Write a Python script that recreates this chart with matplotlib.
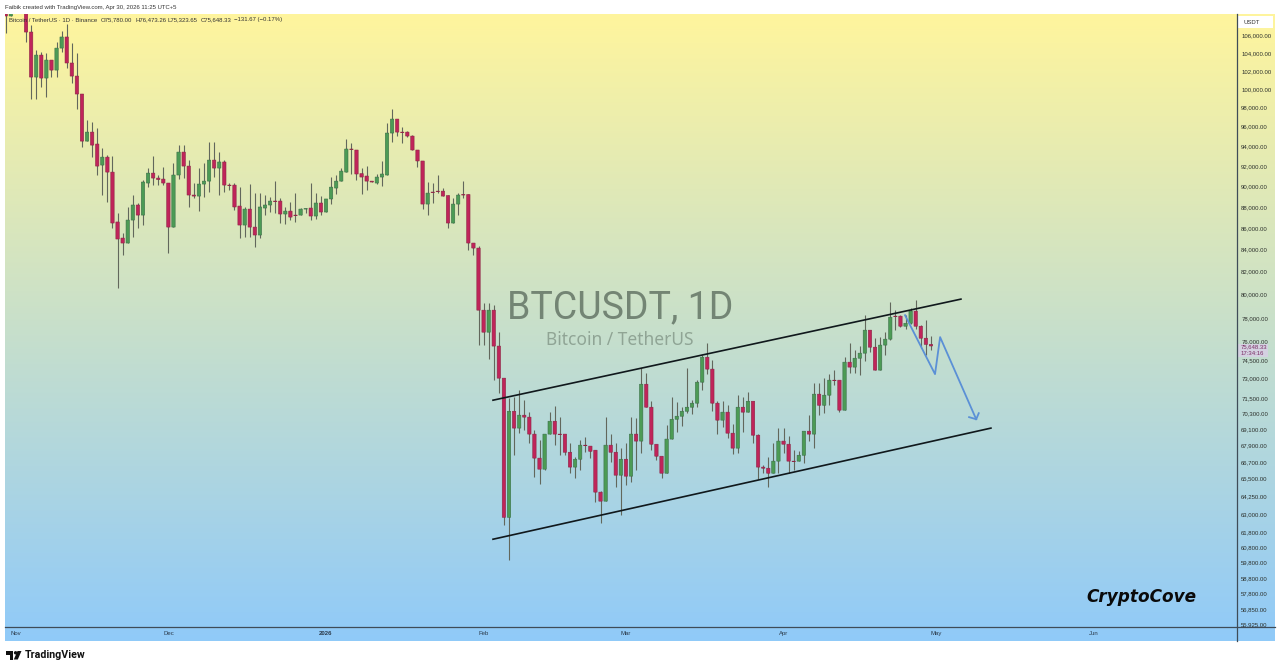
import numpy as np
import matplotlib
matplotlib.use("Agg")
import matplotlib.pyplot as plt
from matplotlib.colors import LinearSegmentedColormap
from matplotlib.lines import Line2D
from matplotlib.patches import Rectangle, Polygon, Circle

# daily BTCUSDT candles, starting Oct 30 (first ones run above the top edge)
opens = [
    108510, 108270, 109900, 110400, 109400, 106400, 101320, 103770, 101210, 103210,
    102090, 104560, 105830, 102880, 101430, 99470, 94510, 95440, 94210, 92080,
    92880, 91380, 86560, 85060, 84600, 86740, 88170, 87210, 90300, 91280,
    90790, 90690, 90300, 86080, 91090, 93390, 91980, 89130, 89030, 90200,
    90490, 92580, 91780, 92390, 90100, 90100, 88070, 86270, 87780, 86080,
    85340, 87880, 88170, 88550, 88550, 87310, 87590, 87210, 87210, 87780,
    87880, 87120, 88360, 87500, 88750, 89810, 90490, 91380, 93700, 93600,
    91230, 90990, 90490, 90300, 90890, 91090, 95340, 96800, 95440, 95440,
    95030, 93600, 92490, 88260, 89420, 89510, 89510, 89080, 86460, 88260,
    89180, 89180, 84600, 84140, 78650, 76790, 78650, 75640, 73050, 62800,
    70470, 69190, 70170, 70020, 68740, 66970, 66170, 68740, 69710, 68740,
    68740, 67400, 66320, 66890, 67920, 67850, 67550, 64540, 63910, 67920,
    67400, 65740, 66890, 65670, 68740, 68220, 72570, 70780, 67990, 67110,
    65880, 68370, 69860, 70090, 70470, 70780, 71090, 72730, 74730, 73770,
    71090, 69790, 70400, 68810, 67700, 70780, 70400, 71240, 68660, 66320,
    66240, 65880, 66750, 68220, 67990, 66750, 66750, 67180, 68960, 68740,
    71790, 70930, 71710, 72890, 72890, 70550, 74330, 73930, 74650, 75060,
    76960, 75550, 73690, 75720, 76210, 78140, 78140, 77290, 77540, 78570,
    77290, 76290, 75780,
]
closes = [
    108270, 108600, 110400, 109400, 106400, 101320, 103770, 101210, 103210, 102090,
    104560, 105830, 102880, 101430, 99470, 94510, 95440, 94100, 91980, 92880,
    91380, 86460, 84970, 84600, 86740, 88170, 87210, 90400, 91280, 90790,
    90640, 90300, 86080, 91090, 93390, 91980, 89130, 89030, 90200, 90490,
    92580, 91780, 92390, 90100, 90050, 87980, 86270, 87780, 86080, 85340,
    87980, 88170, 88550, 88500, 87310, 87590, 87020, 87160, 87780, 87830,
    87120, 88360, 87500, 88750, 89900, 90490, 91480, 93700, 93650, 91190,
    90890, 90490, 90400, 90890, 91190, 95340, 96800, 95440, 95390, 95030,
    93600, 92490, 88260, 89320, 89370, 89470, 89030, 86460, 88260, 89130,
    89130, 84600, 84140, 78650, 76790, 78650, 75640, 73050, 62800, 70470,
    69190, 70170, 70020, 68740, 66970, 66170, 68740, 69710, 68740, 68700,
    67400, 66320, 66890, 67920, 67880, 67470, 64540, 63910, 67920, 67400,
    65740, 66890, 65670, 68740, 68220, 72570, 70780, 67990, 67110, 65880,
    68370, 69860, 70090, 70470, 70780, 71090, 72730, 74730, 73770, 71090,
    69790, 70400, 68810, 67700, 70780, 70400, 71240, 68660, 66320, 66240,
    65880, 66750, 68220, 67990, 66750, 66720, 67180, 68960, 68740, 71790,
    70930, 71710, 72890, 72850, 70550, 74330, 73930, 74650, 75060, 76960,
    75550, 73690, 75720, 76210, 78050, 78100, 77290, 77540, 78570, 77290,
    76290, 75780, 75648.33,
]
highs = [
    108800, 109000, 111000, 110800, 109600, 107220, 104330, 104110, 103990, 103210,
    105250, 106520, 107340, 105140, 103990, 99470, 96700, 96490, 95860, 93800,
    93090, 92990, 87400, 85520, 87980, 89130, 88360, 90590, 91780, 92990,
    91090, 91880, 90300, 92290, 94100, 94100, 92580, 90300, 91780, 92290,
    94410, 94410, 93390, 92580, 90300, 90300, 89900, 87980, 90200, 89320,
    89320, 89130, 88940, 90490, 88840, 87980, 88460, 89320, 87880, 87880,
    90300, 89320, 89030, 88750, 90890, 91090, 91780, 94720, 94310, 93600,
    91780, 91980, 90490, 91190, 92490, 96380, 97860, 96800, 95960, 95540,
    95130, 93600, 92490, 90400, 90300, 91090, 89810, 89130, 88840, 89320,
    90490, 89230, 84600, 84300, 79250, 79250, 79080, 76790, 73050, 71480,
    71550, 72100, 71320, 70400, 69040, 68290, 68740, 70400, 70850, 70020,
    68740, 68070, 67040, 68290, 68510, 67850, 67550, 64610, 70020, 68740,
    68070, 67700, 68070, 70020, 69940, 73850, 73450, 71240, 67990, 67110,
    69410, 71550, 71160, 70780, 73850, 71320, 72890, 74890, 75880, 74490,
    71240, 71240, 70930, 69490, 71710, 71550, 71940, 71240, 68740, 66460,
    67040, 68070, 69190, 69190, 68590, 67550, 67470, 68960, 70170, 72650,
    72650, 73050, 73370, 73690, 72890, 74730, 75880, 75310, 75640, 78220,
    76960, 76290, 76380, 76790, 79340, 78650, 78220, 78220, 78820, 79510,
    77380, 77800, 76473.26,
]
lows = [
    106290, 108270, 109500, 108800, 105250, 98930, 98930, 100220, 99150, 101320,
    101320, 104110, 102310, 100660, 97860, 93900, 94510, 92880, 91090, 89130,
    88460, 85990, 80560, 83500, 84600, 85150, 85990, 86270, 89900, 90100,
    90100, 90100, 83690, 86080, 90690, 90790, 87980, 88840, 87590, 88940,
    89420, 90890, 89130, 89420, 89610, 87690, 85060, 85150, 85150, 84230,
    85060, 87210, 87500, 87400, 86460, 86360, 86740, 86550, 87210, 87400,
    86740, 86830, 87210, 87500, 88260, 89230, 90490, 91380, 91190, 90590,
    89230, 89610, 90400, 90200, 90000, 91090, 94410, 95030, 94310, 94930,
    93600, 91880, 87780, 87210, 88360, 89320, 89030, 85990, 86460, 87210,
    88840, 83960, 83500, 75720, 75720, 74570, 72890, 71870, 62260, 59930,
    67180, 68810, 69040, 68070, 65600, 65100, 66100, 68740, 67920, 67180,
    67180, 65880, 65520, 66100, 67400, 66970, 63840, 62400, 63910, 66680,
    64890, 62940, 65030, 65240, 66100, 67330, 70780, 67550, 66820, 65520,
    65880, 68370, 68890, 69340, 70320, 70240, 70780, 72100, 73370, 70470,
    68740, 69270, 68440, 67250, 67330, 68890, 70400, 68070, 65450, 65880,
    64890, 65880, 65880, 67330, 65880, 66100, 66750, 66610, 68220, 67700,
    70170, 70320, 70930, 72490, 70400, 70550, 73450, 73450, 73290, 74410,
    75150, 73690, 73690, 74890, 76130, 76960, 77210, 77040, 77460, 77040,
    75470, 74890, 75323.65,
]

# time axis, candle index of the first of each month
month_days = [2, 32, 63, 94, 122, 153, 183, 214]
month_labels = ["Nov", "Dec", "2026", "Feb", "Mar", "Apr", "May", "Jun"]

price_ticks = [106000, 104000, 102000, 100000, 98000, 96000, 94000, 92000, 90000,
               88000, 86000, 84000, 82000, 80000, 78000, 76000, 74500, 73000, 71500,
               70300, 69100, 67900, 66700, 65500, 64250, 63000, 61800, 60800, 59800,
               58800, 57800, 56850, 55925]

# drawings, (candle index, price)
upper_days = [95.85, 187.9]
upper_prices = [71320, 79600]
lower_days = [95.85, 193.8]
lower_prices = [61320, 69190]
path_days = [176.9, 182.8, 183.8, 190.9]
path_prices = [78220, 73370, 76380, 69860]
head_days = [189.5, 190.9, 191.4]
head_prices = [70020, 69860, 70320]

RED = "#c0245a"
GREEN = "#4c9b55"
W, H = 1280, 671
SMALL = dict(fontsize=4.3, family="Liberation Sans", va="center")

fig = plt.figure(figsize=(W / 100, H / 100), dpi=100, facecolor="white")


def px_rect(x0, y0, x1, y1):
    return [x0 / W, 1 - y1 / H, (x1 - x0) / W, (y1 - y0) / H]


# yellow to blue background
bg = fig.add_axes([0, 0, 1, 1], zorder=0)
bg.axis("off")
cmap = LinearSegmentedColormap.from_list("bg", ["#fff59d", "#90caf9"], N=1024)
bg.imshow(np.linspace(0, 1, 1024).reshape(-1, 1), cmap=cmap, aspect="auto", extent=(5, 1275, 641, 14),
          interpolation="bilinear")
bg.set_xlim(0, W)
bg.set_ylim(H, 0)

ax = fig.add_axes(px_rect(5, 14, 1237, 627), zorder=1)
ax.patch.set_alpha(0)
ax.set_yscale("log")
ax.set_xlim(-0.14, 242.2)
ax.set_ylim(55743, 108506)

days = np.arange(len(opens))
opens_a, closes_a = np.array(opens), np.array(closes)
up = closes_a >= opens_a
body_low = np.minimum(opens_a, closes_a)
body_size = np.abs(closes_a - opens_a)

ax.vlines(days, lows, highs, color="#62675c", lw=0.8, zorder=2)
red_bars = ax.bar(days[~up], body_size[~up], bottom=body_low[~up], width=0.66, color=RED,
                  edgecolor="#8c2444", linewidth=0.4, zorder=3)
green_bars = ax.bar(days[up], body_size[up], bottom=body_low[up], width=0.66, color=GREEN,
                    edgecolor="#3a6f48", linewidth=0.4, zorder=3)
# no pixel snapping, keeps the body widths even
for bar in list(red_bars) + list(green_bars):
    bar.set_snap(False)

ax.plot(upper_days, upper_prices, color="#10181c", lw=1.2, zorder=4)
ax.plot(lower_days, lower_prices, color="#10181c", lw=1.2, zorder=4)
ax.plot(path_days, path_prices, color="#5b90d6", lw=1.3, zorder=5)
ax.plot(head_days, head_prices, color="#5b90d6", lw=1.3, zorder=5)

ax.yaxis.tick_right()
ax.set_yticks(price_ticks)
ax.set_yticklabels([f"{p:,.2f}" for p in price_ticks], fontsize=4.3, family="Liberation Sans", color="#2b2f2b")
ax.yaxis.set_minor_locator(matplotlib.ticker.NullLocator())
ax.yaxis.set_minor_formatter(matplotlib.ticker.NullFormatter())
ax.tick_params(axis="y", length=0, pad=3)
ax.set_xticks(month_days)
ax.set_xticklabels(month_labels, fontsize=4.3, family="Liberation Sans", color="#2b3a4a")
ax.tick_params(axis="x", length=0, pad=3.2)
ax.get_xticklabels()[2].set_fontweight("bold")
for side in ax.spines:
    ax.spines[side].set_visible(False)

# everything below sits on top, in picture pixels
top = fig.add_axes([0, 0, 1, 1], zorder=3)
top.set_xlim(0, W)
top.set_ylim(H, 0)
top.axis("off")
top.patch.set_alpha(0)

top.add_line(Line2D([1237, 1237], [14, 641], color="#3f4c58", lw=0.9))
top.add_line(Line2D([5, 1275], [627, 627], color="#3f4c58", lw=0.9))

top.add_patch(Rectangle((1238, 16), 35, 12, color="white", lw=0))
top.text(1243, 22, "USDT", color="#333333", **SMALL)

# last price badge
top.add_patch(Rectangle((1238, 344), 30, 13, color="#d9cfe6", alpha=0.8, lw=0))
top.text(1241, 346.8, "75,648.33", color="#7b2d66", **SMALL)
top.text(1241, 353.5, "17:34:16", color="#7b2d66", **SMALL)

top.text(5, 7, "Faibik created with TradingView.com, Apr 30, 2026 11:25 UTC+5", color="#333333", **SMALL)
top.text(9, 20, "Bitcoin / TetherUS · 1D · Binance", color="#333333", **SMALL)
top.text(101, 20, "O75,780.00", color="#333333", **SMALL)
top.text(135, 20, "H76,473.26", color="#333333", **SMALL)
top.text(168, 20, "L75,323.65", color="#333333", **SMALL)
top.text(201, 20, "C75,648.33", color="#333333", **SMALL)
top.text(234, 20, "\u2212131.67 (\u22120.17%)", color="#333333", **SMALL)

# watermark
top.text(620.5, 308, "BTCUSDT, 1D", fontsize=27, family="Roboto", color="#4a5a4d", alpha=0.68,
         ha="center", va="center")
top.text(620, 340, "Bitcoin / TetherUS", fontsize=12.5, family="Noto Sans", color="#4f5f52", alpha=0.45,
         ha="center", va="center")

top.text(1141.5, 597, "CryptoCove", fontsize=12.2, family="DejaVu Sans", fontweight="bold", style="italic",
         color="#0a0a0a", ha="center", va="center")

# TradingView logo
top.add_patch(Polygon([(6, 651), (13, 651), (13, 659.5), (9.5, 659.5), (9.5, 654.5), (6, 654.5)], color="#111111", lw=0))
top.add_patch(Circle((15.6, 652.8), 1.7, color="#111111", lw=0))
top.add_patch(Polygon([(17.5, 651), (21.5, 651), (17.8, 659.5), (13.8, 659.5)], color="#111111", lw=0))
top.text(25, 655.5, "TradingView", fontsize=7.7, family="Roboto", fontweight="bold", color="#111111", va="center")

fig.savefig("out.png", dpi=100)
